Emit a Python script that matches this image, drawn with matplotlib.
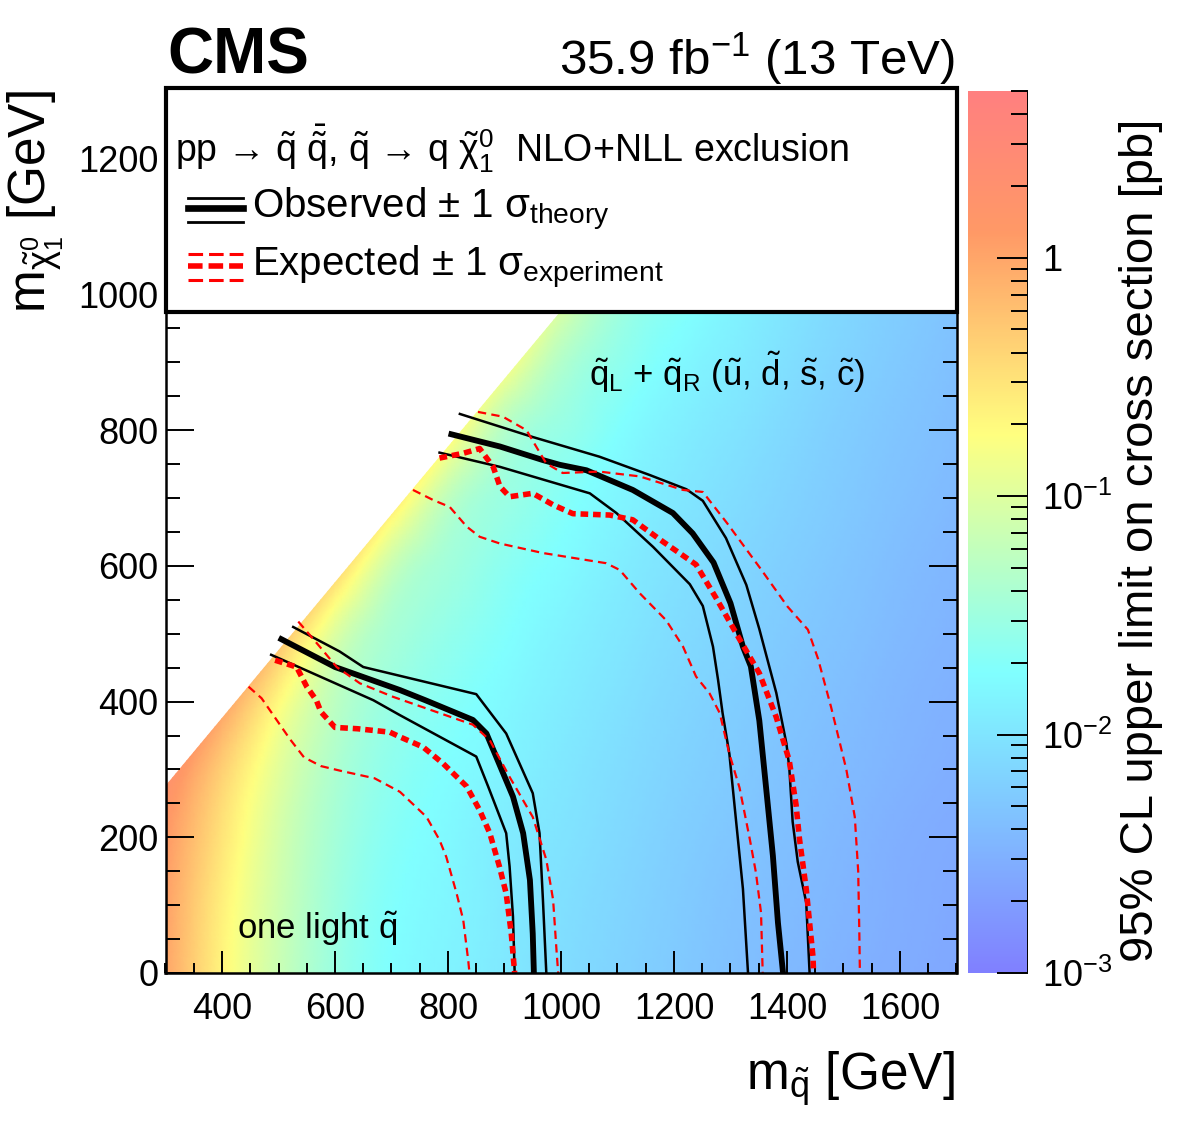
import numpy as np
import matplotlib
matplotlib.use('Agg')
import matplotlib.pyplot as plt
import matplotlib.tri as mtri
from matplotlib.colors import LinearSegmentedColormap, LogNorm
from matplotlib.patches import Rectangle
from matplotlib.ticker import MultipleLocator, FixedLocator, LogLocator, NullFormatter

plt.rcParams['font.family'] = ['Liberation Sans', 'DejaVu Sans']
plt.rcParams['mathtext.fontset'] = 'custom'
plt.rcParams['mathtext.rm'] = 'Liberation Sans'
plt.rcParams['mathtext.it'] = 'Liberation Sans'
plt.rcParams['mathtext.bf'] = 'Liberation Sans:bold'
plt.rcParams['lines.scale_dashes'] = False

# ---------------- background: 95% CL upper limit on cross section [pb] -------------
nan = np.nan
msq_grid = [300, 400, 500, 600, 700, 800, 900, 1000, 1100, 1200, 1300, 1400, 1500, 1600, 1700]
mlsp_grid = [0, 100, 200, 300, 400, 500, 600, 700, 800, 900, 1000, 1100, 1200, 1300]
xsec_limit = [
    [1.0, 0.22, 0.070, 0.030, 0.018, 0.014, 0.011, 0.0085, 0.0068, 0.0055, 0.0045, 0.0038, 0.0032, 0.0028, 0.0025],
    [1.1, 0.24, 0.075, 0.032, 0.019, 0.015, 0.0115, 0.0090, 0.0072, 0.0058, 0.0047, 0.0040, 0.0034, 0.0029, 0.0026],
    [1.3, 0.30, 0.085, 0.036, 0.021, 0.016, 0.012, 0.0098, 0.0078, 0.0062, 0.0051, 0.0043, 0.0036, 0.0030, 0.0027],
    [nan, 0.45, 0.110, 0.042, 0.024, 0.018, 0.014, 0.0108, 0.0085, 0.0068, 0.0056, 0.0046, 0.0039, 0.0033, 0.0029],
    [nan, nan, 0.200, 0.055, 0.029, 0.021, 0.016, 0.0122, 0.0095, 0.0075, 0.0061, 0.0050, 0.0042, 0.0035, 0.0031],
    [nan, nan, nan, 0.100, 0.038, 0.026, 0.019, 0.0140, 0.0108, 0.0084, 0.0068, 0.0055, 0.0046, 0.0038, 0.0033],
    [nan, nan, nan, nan, 0.070, 0.034, 0.023, 0.0170, 0.0125, 0.0095, 0.0075, 0.0061, 0.0050, 0.0041, 0.0035],
    [nan, nan, nan, nan, nan, 0.058, 0.030, 0.0210, 0.0150, 0.0110, 0.0086, 0.0068, 0.0055, 0.0045, 0.0038],
    [nan, nan, nan, nan, nan, nan, 0.048, 0.0280, 0.0185, 0.0130, 0.0100, 0.0077, 0.0060, 0.0049, 0.0041],
    [nan, nan, nan, nan, nan, nan, nan, 0.0460, 0.0250, 0.0165, 0.0122, 0.0090, 0.0068, 0.0054, 0.0044],
    [nan, nan, nan, nan, nan, nan, nan, nan, 0.0380, 0.0220, 0.0150, 0.0105, 0.0077, 0.0060, 0.0048],
    [nan, nan, nan, nan, nan, nan, nan, nan, nan, 0.0320, 0.0195, 0.0130, 0.0092, 0.0069, 0.0053],
    [nan, nan, nan, nan, nan, nan, nan, nan, nan, nan, 0.0290, 0.0175, 0.0120, 0.0085, 0.0061],
    [nan, nan, nan, nan, nan, nan, nan, nan, nan, nan, nan, 0.0260, 0.0160, 0.0105, 0.0073],
]
# values along the kinematic edge m_LSP = m_sq - 25 GeV
msq_diag = [300, 400, 500, 600, 700, 800, 900, 1000, 1100, 1200, 1300, 1325]
mlsp_diag = [275, 375, 475, 575, 675, 775, 875, 975, 1075, 1175, 1275, 1300]
xsec_diag = [1.8, 0.9, 0.5, 0.32, 0.22, 0.17, 0.13, 0.09, 0.07, 0.05, 0.04, 0.038]

# ---------------- exclusion contours -------------
# one light squark
obs_l_x = [505, 600, 715, 760, 844, 868, 915, 933, 945, 950, 952]
obs_l_y = [492, 451, 417, 402, 373, 353, 260, 206, 137, 58, 0]
obs_l_up_x = [526, 608, 650, 715, 850, 903, 950, 962, 968, 974]
obs_l_up_y = [510, 474, 451, 438, 411, 353, 265, 206, 108, 0]
obs_l_dn_x = [487, 668, 715, 850, 871, 903, 909, 915, 918]
obs_l_dn_y = [469, 402, 380, 319, 275, 206, 157, 83, 0]
exp_l_x = [494, 532, 550, 567, 575, 600, 640, 697, 715, 756, 791, 833, 856, 874, 891, 903, 912, 918]
exp_l_y = [461, 451, 422, 402, 385, 362, 360, 355, 348, 333, 309, 275, 240, 206, 157, 117, 58, 0]
exp_l_up_x = [535, 573, 603, 644, 703, 844, 874, 909, 950, 974, 986, 992, 995]
exp_l_up_y = [518, 481, 451, 427, 407, 366, 343, 289, 230, 167, 108, 34, 0]
exp_l_dn_x = [447, 470, 495, 520, 545, 575, 610, 670, 715, 762, 785, 797, 815, 827, 836, 838]
exp_l_dn_y = [422, 405, 375, 345, 318, 305, 298, 287, 267, 230, 196, 171, 118, 78, 17, 0]

# q_L + q_R (u, d, s, c)
obs_r_x = [806, 892, 968, 998, 1045, 1127, 1198, 1233, 1270, 1300, 1322, 1336, 1351, 1363, 1375, 1384, 1393]
obs_r_y = [794, 776, 756, 749, 741, 712, 678, 648, 605, 545, 481, 452, 372, 273, 173, 74, 0]
obs_r_up_x = [821, 950, 1068, 1157, 1222, 1251, 1292, 1328, 1351, 1381, 1399, 1404, 1410, 1419, 1434, 1440]
obs_r_up_y = [824, 790, 761, 734, 713, 696, 641, 572, 507, 413, 338, 303, 223, 164, 104, 0]
obs_r_dn_x = [785, 892, 1051, 1098, 1163, 1228, 1251, 1269, 1278, 1286, 1298, 1310, 1322, 1331]
obs_r_dn_y = [767, 746, 707, 678, 628, 573, 541, 481, 432, 383, 323, 223, 124, 0]
exp_r_x = [785, 827, 856, 880, 892, 909, 950, 986, 1021, 1086, 1127, 1180, 1239, 1275, 1316, 1351, 1381, 1404, 1416, 1422, 1434, 1440, 1446, 1447]
exp_r_y = [759, 766, 773, 746, 717, 702, 707, 690, 677, 675, 668, 636, 602, 552, 492, 442, 377, 313, 248, 198, 124, 74, 24, 0]
exp_r_up_x = [853, 897, 939, 956, 974, 1003, 1068, 1139, 1216, 1251, 1294, 1354, 1401, 1437, 1455, 1478, 1505, 1520, 1526, 1528, 1529]
exp_r_up_y = [827, 820, 800, 776, 751, 737, 739, 732, 712, 709, 663, 595, 540, 506, 463, 392, 300, 230, 150, 60, 0]
exp_r_dn_x = [738, 774, 803, 833, 856, 892, 968, 1080, 1104, 1139, 1186, 1216, 1239, 1263, 1281, 1298, 1316, 1334, 1345, 1354, 1357]
exp_r_dn_y = [712, 697, 687, 658, 643, 633, 619, 604, 594, 560, 520, 481, 437, 412, 383, 323, 273, 198, 148, 89, 0]

x_ticks = [400, 600, 800, 1000, 1200, 1400, 1600]
y_ticks = [0, 200, 400, 600, 800, 1000, 1200]
cb_ticks = [1e-3, 1e-2, 1e-1, 1]
cb_ticklabels = [r'$10^{-3}$', r'$10^{-2}$', r'$10^{-1}$', '1']

# ---------------- figure -------------
W, H = 1182, 1134
fig = plt.figure(figsize=(W / 100, H / 100), dpi=100)


def fx(px):
    return px / W


def fy(py):
    return 1 - py / H


ax = fig.add_axes([fx(165.5), fy(973), fx(956.5) - fx(165.5), fy(91) - fy(973)])
cax = fig.add_axes([fx(968), fy(973), fx(1028) - fx(968), fy(91) - fy(973)])

cmap = LinearSegmentedColormap.from_list('cms_susy', [
    (0.00, (0.5, 0.5, 1.0)),
    (0.34, (0.5, 1.0, 1.0)),
    (0.61, (1.0, 1.0, 0.5)),
    (0.84, (1.0, 0.6, 0.4)),
    (1.00, (1.0, 0.5, 0.5))], N=512)
norm = LogNorm(vmin=1e-3, vmax=5)

gx, gy = np.meshgrid(msq_grid, mlsp_grid)
gz = np.array(xsec_limit, dtype=float)
ok = np.isfinite(gz)
px_all = np.concatenate([gx[ok], np.array(msq_diag, float)])
py_all = np.concatenate([gy[ok], np.array(mlsp_diag, float)])
pz_all = np.concatenate([gz[ok], np.array(xsec_diag, float)])
tri = mtri.Triangulation(px_all, py_all)
refiner = mtri.UniformTriRefiner(tri)
tri_f, logz_f = refiner.refine_field(np.log10(pz_all), subdiv=4)
tpc = ax.tripcolor(tri_f, 10 ** logz_f, shading='gouraud', cmap=cmap, norm=norm,
                   zorder=1, rasterized=True)

# contours
thick_obs = dict(color='black', lw=4.2, zorder=4)
thin_obs = dict(color='black', lw=1.8, zorder=4)
thick_exp = dict(color='#ff0000', lw=4.0, zorder=5, linestyle=(0, (5.5, 3.5)))
thin_exp = dict(color='#ff0000', lw=1.6, zorder=5, linestyle=(0, (6.0, 3.8)))

ax.plot(exp_l_up_x, exp_l_up_y, **thin_exp)
ax.plot(exp_l_dn_x, exp_l_dn_y, **thin_exp)
ax.plot(exp_r_up_x, exp_r_up_y, **thin_exp)
ax.plot(exp_r_dn_x, exp_r_dn_y, **thin_exp)
ax.plot(obs_l_up_x, obs_l_up_y, **thin_obs)
ax.plot(obs_l_dn_x, obs_l_dn_y, **thin_obs)
ax.plot(obs_r_up_x, obs_r_up_y, **thin_obs)
ax.plot(obs_r_dn_x, obs_r_dn_y, **thin_obs)
ax.plot(obs_l_x, obs_l_y, **thick_obs)
ax.plot(obs_r_x, obs_r_y, **thick_obs)
ax.plot(exp_l_x, exp_l_y, **thick_exp)
ax.plot(exp_r_x, exp_r_y, **thick_exp)

ax.set_xlim(300, 1700)
ax.set_ylim(0, 1300)

ax.xaxis.set_major_locator(FixedLocator(x_ticks))
ax.yaxis.set_major_locator(FixedLocator(y_ticks))
ax.xaxis.set_minor_locator(MultipleLocator(50))
ax.yaxis.set_minor_locator(MultipleLocator(50))
ax.tick_params(axis='x', which='major', direction='in', length=16, width=1.4,
               top=True, bottom=True, labelsize=26, pad=14)
ax.tick_params(axis='x', which='minor', direction='in', length=7.5, width=1.4, top=True, bottom=True)
ax.tick_params(axis='y', which='major', direction='in', length=20, width=1.4,
               left=True, right=True, labelsize=26, pad=5)
ax.tick_params(axis='y', which='minor', direction='in', length=10, width=1.4, left=True, right=True)
for s in ax.spines.values():
    s.set_linewidth(1.8)
    s.set_zorder(6)

# labels
ax.text(1050, 885, r'$\tilde{q}_{\mathrm{L}}$ + $\tilde{q}_{\mathrm{R}}$ ($\tilde{u}$, $\tilde{d}$, $\tilde{s}$, $\tilde{c}$)',
        fontsize=25, va='center', ha='left', zorder=7)
ax.text(426, 66, r'one light $\tilde{q}$', fontsize=25, va='center', ha='left', zorder=7)

# legend box
ax.add_patch(Rectangle((0.0, 0.749), 1.0, 0.254, transform=ax.transAxes, facecolor='white',
                       edgecolor='black', lw=3.0, zorder=10, clip_on=False))
ax.text(0.012, 0.935,
        r'pp → $\tilde{q}$ $\bar{\tilde{q}}$, $\tilde{q}$ → q $\tilde{\chi}^{0}_{1}$  NLO+NLL exclusion',
        transform=ax.transAxes, fontsize=27, va='center', ha='left', zorder=11)
ax.text(0.109, 0.866, r'Observed $\pm$ 1 $\sigma_{\mathrm{theory}}$', transform=ax.transAxes,
        fontsize=29, va='center', ha='left', zorder=11)
ax.text(0.109, 0.800, r'Expected $\pm$ 1 $\sigma_{\mathrm{experiment}}$', transform=ax.transAxes,
        fontsize=29, va='center', ha='left', zorder=11)
sx = [0.0284, 0.098]
ax.plot(sx, [0.8790, 0.8790], transform=ax.transAxes, color='black', lw=2.0, zorder=12, clip_on=False)
ax.plot(sx, [0.8670, 0.8670], transform=ax.transAxes, color='black', lw=4.8, zorder=12, clip_on=False)
ax.plot(sx, [0.8520, 0.8520], transform=ax.transAxes, color='black', lw=2.0, zorder=12, clip_on=False)
leg_dash = (0, (10.5, 4.3))
ax.plot(sx, [0.8150, 0.8150], transform=ax.transAxes, color='#ff0000', lw=2.2, zorder=12, clip_on=False,
        linestyle=leg_dash)
ax.plot(sx, [0.8015, 0.8015], transform=ax.transAxes, color='#ff0000', lw=4.0, zorder=12, clip_on=False,
        linestyle=leg_dash)
ax.plot(sx, [0.7860, 0.7860], transform=ax.transAxes, color='#ff0000', lw=2.2, zorder=12, clip_on=False,
        linestyle=leg_dash)

# colorbar
cb = fig.colorbar(tpc, cax=cax)
cb.outline.set_visible(False)
cb.set_ticks(cb_ticks)
cb.set_ticklabels(cb_ticklabels)
cax.yaxis.set_ticks_position('right')
cax.yaxis.set_minor_locator(LogLocator(base=10, subs=np.arange(2, 10)))
cax.yaxis.set_minor_formatter(NullFormatter())
cax.tick_params(which='major', direction='in', length=22, width=1.4, labelsize=26, pad=10)
cax.tick_params(which='minor', direction='in', length=12, width=1.4)
cax.axvline(1.0, color='black', lw=1.4)

# axis titles
fig.text(fx(955), fy(1090), r'm$_{\tilde{q}}$ [GeV]', fontsize=37, ha='right', va='baseline')
fig.text(fx(46), fy(90), r'm$_{\tilde{\chi}^{0}_{1}}$ [GeV]', fontsize=37, ha='right', va='baseline',
         rotation=90, rotation_mode='anchor')
fig.text(fx(1141), fy(540), '95% CL upper limit on cross section [pb]', fontsize=34,
         ha='center', va='center', rotation=90)

# header
fig.text(fx(167), fy(73), 'CMS', fontsize=46, fontweight='bold', ha='left', va='baseline')
fig.text(fx(955), fy(75), r'35.9 fb$^{-1}$ (13 TeV)', fontsize=35.5, ha='right', va='baseline')

fig.savefig('out.png', dpi=100)
